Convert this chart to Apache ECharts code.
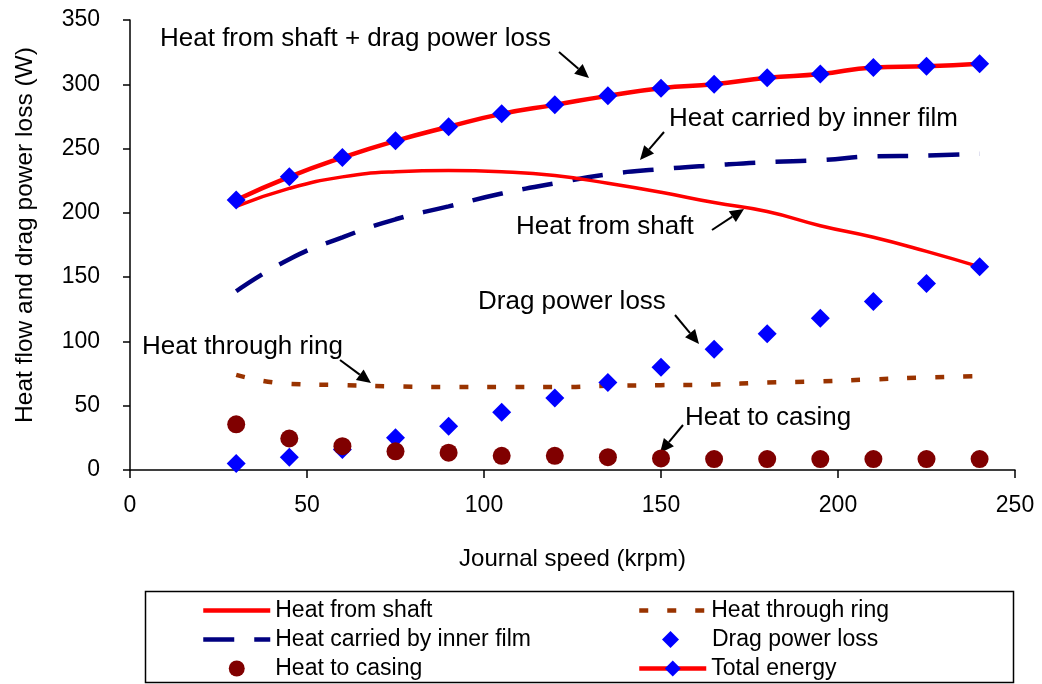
<!DOCTYPE html>
<html>
<head>
<meta charset="utf-8">
<script src="https://cdn.jsdelivr.net/npm/echarts@6/dist/echarts.min.js"></script>
<style>
  html, body { margin: 0; padding: 0; background: #ffffff; }
  #chart { width: 1042px; height: 684px; }
</style>
</head>
<body>
<div id="chart"></div>
<script>
// Journal speed (krpm)
const speed = [30, 45, 60, 75, 90, 105, 120, 135, 150, 165, 180, 195, 210, 225, 240];

// Heat flows and drag loss (W)
const heatFromShaft  = [205, 219, 228, 232, 233, 232, 229, 223, 216, 208, 201, 190, 181, 170, 158];
const heatThroughRing = [74, 67, 66, 65, 64.5, 64.5, 64.5, 65.5, 66, 66.5, 68, 69, 70.5, 72, 73];
const heatInnerFilm  = [139, 164, 181, 195, 205, 215, 223, 230, 234, 237, 239.5, 241, 244, 244.5, 246];
const dragPowerLoss  = [5, 10, 16, 25, 34, 45, 56, 68, 80, 94, 106, 118, 131, 145, 158];
const heatToCasing   = [35.5, 24.5, 18.5, 14.5, 13.5, 11, 11, 10, 9, 8.5, 8.5, 8.5, 8.5, 8.5, 8.5];
const totalEnergy    = [210, 228, 243, 256, 267, 277, 284, 291, 297, 300, 305, 308, 313, 314, 316];

// Axis ticks
const xTicks = { min: 0, max: 250, step: 50 };
const yTicks = { min: 0, max: 350, step: 50 };

const FONT = "'Liberation Sans', Arial, sans-serif";

function pairs(values) {
  return speed.map((s, i) => [s, values[i]]);
}

// Callout labels with arrows pointing at the curves
const callouts = [
  { text: 'Heat from shaft + drag power loss', tx: 160, ty: 39, from: [559, 52], to: [589, 78] },
  { text: 'Heat carried by inner film', tx: 669, ty: 119, from: [664, 132], to: [640, 160] },
  { text: 'Heat from shaft', tx: 516, ty: 227, from: [712, 230], to: [744, 209] },
  { text: 'Drag power loss', tx: 478, ty: 302, from: [675, 315], to: [699, 344] },
  { text: 'Heat to casing', tx: 685, ty: 418, from: [683, 425], to: [660, 453] },
  { text: 'Heat through ring', tx: 142, ty: 347, from: [340, 360], to: [371, 383] }
];

function arrow(from, to) {
  const dx = to[0] - from[0], dy = to[1] - from[1];
  const len = Math.sqrt(dx * dx + dy * dy);
  const ux = dx / len, uy = dy / len;
  const headLen = 14, headHalf = 6.5;
  const bx = to[0] - ux * headLen, by = to[1] - uy * headLen;
  return {
    type: 'group',
    children: [
      { type: 'line', shape: { x1: from[0], y1: from[1], x2: bx, y2: by },
        style: { stroke: '#000', lineWidth: 2 } },
      { type: 'polygon',
        shape: { points: [to, [bx - uy * headHalf, by + ux * headHalf], [bx + uy * headHalf, by - ux * headHalf]] },
        style: { fill: '#000' } }
    ]
  };
}

const graphics = [];
callouts.forEach(c => {
  graphics.push({
    type: 'text', x: c.tx, y: c.ty,
    style: { text: c.text, fill: '#000', fontSize: 26, fontFamily: FONT, verticalAlign: 'middle', align: 'left' }
  });
  graphics.push(arrow(c.from, c.to));
});
// legend frame
graphics.push({
  type: 'rect', shape: { x: 145.5, y: 591.5, width: 868, height: 91 },
  style: { fill: 'none', stroke: '#000', lineWidth: 1.5 }, z: -1
});

const legendText = { fontSize: 23, fontFamily: FONT, color: '#000', lineHeight: 29 };
const noSymbol = { opacity: 0 };
const legendBase = {
  orient: 'vertical', padding: 0, itemGap: 0, symbolKeepAspect: true,
  lineStyle: { width: 4.5 }, textStyle: legendText
};

const option = {
  animation: false,
  backgroundColor: '#ffffff',
  grid: { left: 130, right: 27, top: 20, bottom: 214, containLabel: false },
  xAxis: {
    type: 'value', min: xTicks.min, max: xTicks.max, interval: xTicks.step,
    name: 'Journal speed (krpm)', nameLocation: 'middle', nameGap: 77,
    nameTextStyle: { fontSize: 24, fontFamily: FONT, color: '#000' },
    axisLine: { show: true, onZero: false, lineStyle: { color: '#000', width: 1.5 } },
    axisTick: { show: true, inside: false, length: 8, lineStyle: { color: '#000', width: 1.5 } },
    axisLabel: { fontSize: 23, fontFamily: FONT, color: '#000', margin: 24 },
    splitLine: { show: false }
  },
  yAxis: {
    type: 'value', min: yTicks.min, max: yTicks.max, interval: yTicks.step,
    name: 'Heat flow and drag power loss (W)', nameLocation: 'middle', nameGap: 92, nameRotate: 90,
    nameTextStyle: { fontSize: 24.5, fontFamily: FONT, color: '#000', padding: [0, 0, 0, 20] },
    axisLine: { show: true, lineStyle: { color: '#000', width: 1.5 } },
    axisTick: { show: true, inside: false, length: 7, lineStyle: { color: '#000', width: 1.5 } },
    axisLabel: { fontSize: 23, fontFamily: FONT, color: '#000', margin: 30 },
    splitLine: { show: false }
  },
  legend: [
    Object.assign({}, legendBase, {
      left: 201, top: 596, itemWidth: 67, itemHeight: 16,
      data: [
        { name: 'Heat from shaft', itemStyle: noSymbol },
        { name: 'Heat carried by inner film', itemStyle: noSymbol },
        'Heat to casing'
      ]
    }),
    Object.assign({}, legendBase, {
      left: 637, top: 596, itemWidth: 67, itemHeight: 16,
      data: [{ name: 'Heat through ring', itemStyle: noSymbol }]
    }),
    Object.assign({}, legendBase, {
      left: 662, top: 625, itemWidth: 17, itemHeight: 17,
      textStyle: Object.assign({}, legendText, { padding: [0, 0, 0, 28] }),
      data: ['Drag power loss']
    }),
    Object.assign({}, legendBase, {
      left: 637, top: 654, itemWidth: 67, itemHeight: 20,
      data: ['Total energy']
    })
  ],
  graphic: graphics,
  series: [
    {
      name: 'Heat from shaft', type: 'line', data: pairs(heatFromShaft),
      smooth: true, symbol: 'none', z: 3,
      lineStyle: { color: '#ff0000', width: 3.5 }, itemStyle: { color: '#ff0000' }
    },
    {
      name: 'Heat through ring', type: 'line', data: pairs(heatThroughRing),
      smooth: true, symbol: 'none', z: 2,
      lineStyle: { color: '#993300', width: 4.5, type: [9, 19] }, itemStyle: { color: '#993300' }
    },
    {
      name: 'Heat carried by inner film', type: 'line', data: pairs(heatInnerFilm),
      smooth: true, symbol: 'none', z: 2,
      lineStyle: { color: '#000080', width: 4.5, type: [31, 20] }, itemStyle: { color: '#000080' }
    },
    {
      name: 'Drag power loss', type: 'scatter', data: pairs(dragPowerLoss),
      symbol: 'diamond', symbolSize: 19, z: 4,
      itemStyle: { color: '#0000ff', opacity: 1 }
    },
    {
      name: 'Heat to casing', type: 'scatter', data: pairs(heatToCasing),
      symbol: 'circle', symbolSize: 18, z: 5,
      itemStyle: { color: '#800000', opacity: 1 }
    },
    {
      name: 'Total energy', type: 'line', data: pairs(totalEnergy),
      smooth: true, symbol: 'diamond', symbolSize: 19, showSymbol: true, z: 6,
      lineStyle: { color: '#ff0000', width: 4.5 }, itemStyle: { color: '#0000ff', opacity: 1 }
    }
  ]
};

const chart = echarts.init(document.getElementById('chart'), null, { renderer: 'canvas' });
chart.setOption(option);
</script>
</body>
</html>
